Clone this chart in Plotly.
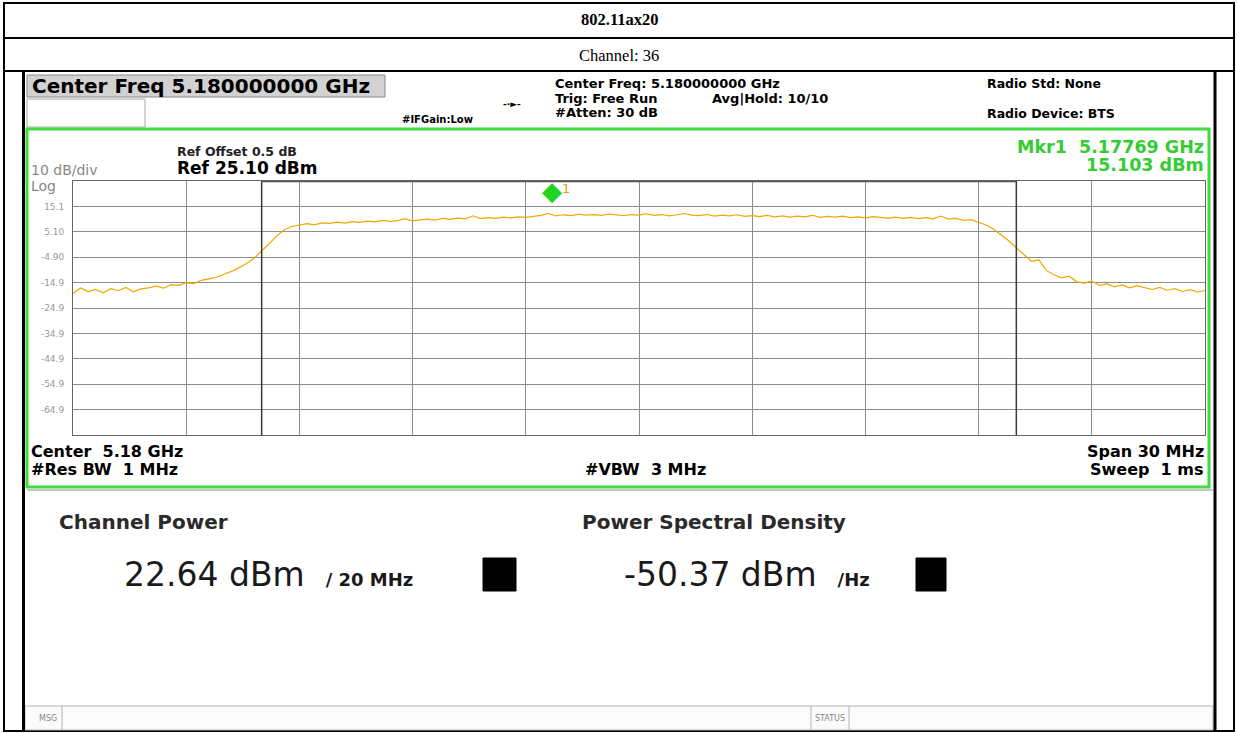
import plotly.graph_objects as go

# sweep: offset from start freq (MHz) and trace level (dBm)
start_ghz = 5.165
span_mhz = 30.0
offset_mhz = [
    0.0, 0.2, 0.4, 0.6, 0.8, 1.0, 1.2, 1.4, 1.6, 1.8,
    2.0, 2.2, 2.4, 2.6, 2.8, 3.0, 3.2, 3.4, 3.6, 3.8,
    4.0, 4.2, 4.4, 4.6, 4.8, 5.0, 5.2, 5.4, 5.6, 5.8,
    6.0, 6.2, 6.4, 6.6, 6.8, 7.0, 7.2, 7.4, 7.6, 7.8,
    8.0, 8.2, 8.4, 8.6, 8.8, 9.0, 9.2, 9.4, 9.6, 9.8,
    10.0, 10.2, 10.4, 10.6, 10.8, 11.0, 11.2, 11.4, 11.6, 11.8,
    12.0, 12.2, 12.4, 12.6, 12.8, 13.0, 13.2, 13.4, 13.6, 13.8,
    14.0, 14.2, 14.4, 14.6, 14.8, 15.0, 15.2, 15.4, 15.6, 15.8,
    16.0, 16.2, 16.4, 16.6, 16.8, 17.0, 17.2, 17.4, 17.6, 17.8,
    18.0, 18.2, 18.4, 18.6, 18.8, 19.0, 19.2, 19.4, 19.6, 19.8,
    20.0, 20.2, 20.4, 20.6, 20.8, 21.0, 21.2, 21.4, 21.6, 21.8,
    22.0, 22.2, 22.4, 22.6, 22.8, 23.0, 23.2, 23.4, 23.6, 23.8,
    24.0, 24.2, 24.4, 24.6, 24.8, 25.0, 25.2, 25.4, 25.6, 25.8,
    26.0, 26.2, 26.4, 26.6, 26.8, 27.0, 27.2, 27.4, 27.6, 27.8,
    28.0, 28.2, 28.4, 28.6, 28.8, 29.0, 29.2, 29.4, 29.6, 29.8,
    30.0,
]
level_dbm = [
    -19.2, -17.0, -18.4, -17.6, -18.9, -17.3, -18.1, -16.8, -18.5, -17.4,
    -17.0, -16.2, -17.1, -15.7, -16.0, -14.9, -15.3, -14.0, -13.4, -12.8,
    -11.6, -10.5, -9.0, -7.4, -5.3, -2.6, 0.4, 3.5, 5.9, 7.2,
    7.9, 8.3, 7.8, 8.6, 8.4, 8.9, 8.5, 9.1, 8.8, 9.3,
    9.0, 9.6, 9.2, 9.5, 10.3, 9.4, 9.8, 10.1, 9.7, 10.4,
    10.0, 10.5, 10.2, 11.4, 10.3, 10.7, 10.4, 10.9, 10.6, 11.0,
    10.8, 11.2, 11.6, 12.3, 11.4, 11.8, 11.5, 12.0, 11.7, 11.9,
    11.6, 12.1, 11.8, 11.5, 11.9, 11.7, 12.2, 11.6, 11.9, 11.4,
    11.8, 12.3, 11.7, 11.5, 11.9, 11.3, 11.7, 11.4, 11.8, 11.2,
    11.5, 11.1, 11.6, 11.0, 11.4, 10.9, 11.3, 11.0, 11.6, 10.8,
    11.2, 10.9, 11.3, 10.7, 11.0, 10.6, 11.1, 10.8, 10.5, 10.9,
    10.4, 10.8, 10.3, 10.7, 10.2, 11.3, 10.1, 10.4, 9.6, 9.9,
    8.7, 7.8, 6.1, 4.0, 1.6, -1.2, -4.0, -6.5, -6.0, -10.2,
    -11.8, -13.0, -12.4, -14.6, -15.1, -14.3, -16.0, -15.4, -16.6, -15.8,
    -17.0, -16.1, -16.9, -17.6, -16.8, -17.9, -17.3, -18.4, -17.7, -18.6,
    -18.0,
]

ref_level = 25.10
db_per_div = 10
ytick_vals = [15.1, 5.1, -4.9, -14.9, -24.9, -34.9, -44.9, -54.9, -64.9]
ytick_text = ["15.1", "5.10", "-4.90", "-14.9", "-24.9", "-34.9", "-44.9", "-54.9", "-64.9"]

center_ghz = 5.18
chan_bw_mhz = 20.0
mkr_freq_ghz = 5.17769
mkr_level = 15.103

W, H = 1237, 733
freqs = [start_ghz + o / 1000.0 for o in offset_mhz]


def px(x):
    return x / W


def py(y):
    return 1 - y / H


fig = go.Figure()
fig.add_trace(go.Scatter(
    x=freqs, y=level_dbm, mode="lines",
    line=dict(color="#f0a800", width=1.2),
    hoverinfo="skip", showlegend=False,
))

shapes = []
annos = []


def rect(x0, y0, x1, y1, line="black", width=1, fill=None):
    shapes.append(dict(type="rect", xref="paper", yref="paper",
                       x0=px(x0), x1=px(x1), y0=py(y0), y1=py(y1),
                       line=dict(color=line, width=width),
                       fillcolor=fill if fill else "rgba(0,0,0,0)", layer="below"))


def hline(x0, x1, y, color="black", width=1):
    shapes.append(dict(type="line", xref="paper", yref="paper",
                       x0=px(x0), x1=px(x1), y0=py(y), y1=py(y),
                       line=dict(color=color, width=width)))


def vline(x, y0, y1, color="black", width=1):
    shapes.append(dict(type="line", xref="paper", yref="paper",
                       x0=px(x), x1=px(x), y0=py(y0), y1=py(y1),
                       line=dict(color=color, width=width)))


def text(x, y, s, size, color="black", anchor="left", family="DejaVu Sans"):
    annos.append(dict(xref="paper", yref="paper", x=px(x), y=py(y), text=s,
                      showarrow=False, xanchor=anchor, yanchor="middle",
                      font=dict(family=family, size=size, color=color)))


# table around the screenshot
rect(4, 3, 1234, 731, width=2)
hline(4, 1234, 38, width=2)
hline(4, 1234, 71, width=2)
text(619, 20, "<b>802.11ax20</b>", 16.5, anchor="center", family="Liberation Serif")
text(619, 55, "Channel: 36", 16.5, anchor="center", family="Liberation Serif")

# analyzer screen frame
vline(23.5, 71, 731, width=3)
vline(1215, 71, 731, width=3)
rect(27, 75, 385, 97, line="#8a8a8a", fill="#d2d2d2")
rect(27, 99, 145, 127, line="#a8a8a8", fill="white")
rect(27, 129, 1209, 487, line="#3fdc3f", width=3)
hline(27, 1213, 490, color="#b5b5b5", width=1.5)
rect(25, 706, 1213, 730, line="#b5b5b5", fill="#fbfbfb")
vline(62, 706, 730, color="#b5b5b5")
vline(811, 706, 730, color="#b5b5b5")
vline(849, 706, 730, color="#b5b5b5")
rect(483, 558, 516, 591, line="black", fill="black")
rect(916, 558, 946, 591, line="black", fill="black")

# header texts
text(30, 86, "<b>Center Freq 5.180000000 GHz</b>", 20)
text(400, 120, "<b>#IFGain:Low</b>", 10)
text(512, 104, "<b>-·►-</b>", 9, anchor="center")
text(553, 84, "<b>Center Freq: 5.180000000 GHz</b>", 13)
text(553, 98, "<b>Trig: Free Run</b>", 13)
text(553, 112, "<b>#Atten: 30 dB</b>", 13)
text(710, 98, "<b>Avg|Hold: 10/10</b>", 13)
text(985, 84, "<b>Radio Std: None</b>", 12.5)
text(985, 113, "<b>Radio Device: BTS</b>", 12.5)
text(1206, 147, "<b>Mkr1  5.17769 GHz</b>", 17.5, color="#33cc33", anchor="right")
text(1206, 165, "<b>15.103 dBm</b>", 17.5, color="#33cc33", anchor="right")
text(175, 151, "<b>Ref Offset 0.5 dB</b>", 12.5, color="#222")
text(175, 168, "<b>Ref 25.10 dBm</b>", 17)
text(29, 170, "10 dB/div", 14, color="#888")
text(29, 186, "Log", 14, color="#888")

# footer of graticule
text(29, 451, "<b>Center  5.18 GHz</b>", 16)
text(29, 469, "<b>#Res BW  1 MHz</b>", 16)
text(583, 469, "<b>#VBW  3 MHz</b>", 16)
text(1206, 451, "<b>Span 30 MHz</b>", 16, anchor="right")
text(1206, 469, "<b>Sweep  1 ms</b>", 16, anchor="right")

# results
text(57, 522, "<b>Channel Power</b>", 20, color="#2a2a2a")
text(580, 522, "<b>Power Spectral Density</b>", 20, color="#2a2a2a")
text(122, 574, "22.64 dBm  <b><span style='font-size:18px'>/ 20 MHz</span></b>", 33, color="#1a1a1a")
text(622, 574, "-50.37 dBm  <b><span style='font-size:18px'>/Hz</span></b>", 33, color="#1a1a1a")
text(37, 718, "MSG", 8, color="#888")
text(830, 718, "STATUS", 8, color="#888", anchor="center")

# marker 1
annos.append(dict(x=mkr_freq_ghz, y=mkr_level, xref="x", yref="y", text="◆",
                  showarrow=False, yanchor="bottom", xanchor="center", yshift=-2,
                  font=dict(family="DejaVu Sans", size=26, color="#22d422")))
annos.append(dict(x=mkr_freq_ghz, y=mkr_level, xref="x", yref="y", text="1",
                  showarrow=False, yanchor="bottom", xanchor="left", xshift=8, yshift=8,
                  font=dict(family="DejaVu Sans", size=13, color="#e8a000")))

# channel integration bandwidth edges
lo = center_ghz - chan_bw_mhz / 2000.0
hi = center_ghz + chan_bw_mhz / 2000.0
for edge in (lo, hi):
    shapes.append(dict(type="line", xref="x", yref="y", x0=edge, x1=edge,
                       y0=ref_level - 10 * db_per_div, y1=ref_level,
                       line=dict(color="#3a3a3a", width=1.5)))
shapes.append(dict(type="line", xref="x", yref="y", x0=lo, x1=hi,
                   y0=ref_level, y1=ref_level, line=dict(color="#555", width=2.5)))

fig.update_layout(
    width=W, height=H,
    margin=dict(l=0, r=0, t=0, b=0),
    paper_bgcolor="white", plot_bgcolor="white",
    shapes=shapes, annotations=annos,
    xaxis=dict(domain=[px(73), px(1205)], range=[start_ghz, start_ghz + span_mhz / 1000.0],
               tick0=start_ghz, dtick=span_mhz / 10000.0, showgrid=True,
               gridcolor="#8c8c8c", gridwidth=1, showticklabels=False, ticks="",
               zeroline=False, showline=True, linecolor="#666", linewidth=1, mirror=True),
    yaxis=dict(domain=[py(435), py(181)], range=[ref_level - 10 * db_per_div, ref_level],
               tickvals=ytick_vals, ticktext=ytick_text, showgrid=True,
               gridcolor="#8c8c8c", gridwidth=1, ticks="", ticklabelstandoff=6,
               tickfont=dict(family="DejaVu Sans", size=9, color="#999"),
               zeroline=False, showline=True, linecolor="#666", linewidth=1, mirror=True),
)

fig.write_html("out.html", config={"displayModeBar": False},
               post_script="document.body.style.margin='0';")
